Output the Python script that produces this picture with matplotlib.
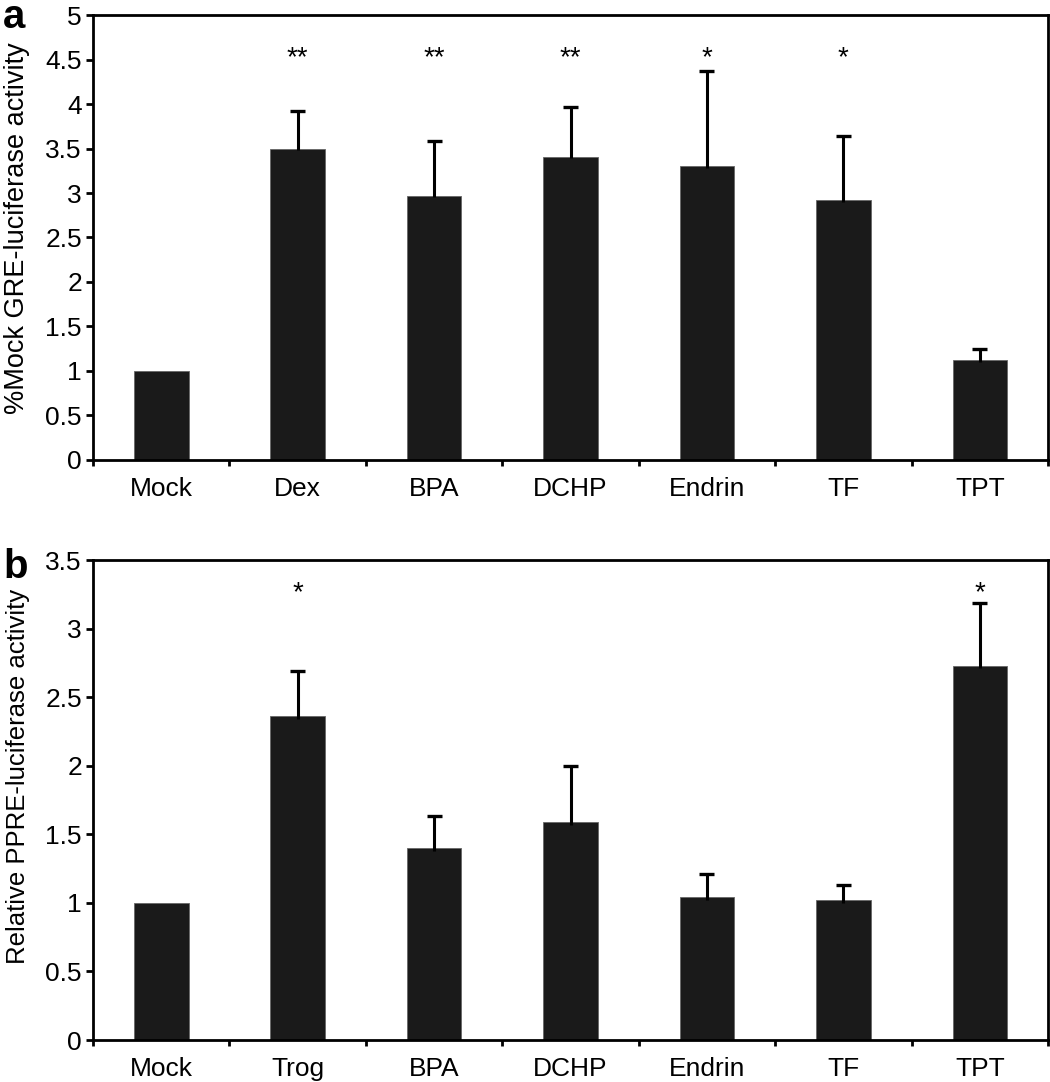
import matplotlib
matplotlib.use("Agg")
import matplotlib.pyplot as plt
import numpy as np

plt.rcParams['font.family'] = ['Liberation Sans', 'DejaVu Sans']

# panel a: GRE
cats_a = ['Mock', 'Dex', 'BPA', 'DCHP', 'Endrin', 'TF', 'TPT']
vals_a = [1.0, 3.50, 2.97, 3.41, 3.30, 2.92, 1.12]
errs_a = [0.0, 0.42, 0.61, 0.56, 1.07, 0.72, 0.13]
stars_a = ['', '**', '**', '**', '*', '*', '']

# panel b: PPRE
cats_b = ['Mock', 'Trog', 'BPA', 'DCHP', 'Endrin', 'TF', 'TPT']
vals_b = [1.0, 2.36, 1.40, 1.59, 1.04, 1.02, 2.73]
errs_b = [0.0, 0.33, 0.23, 0.41, 0.17, 0.11, 0.46]
stars_b = ['', '*', '', '', '', '', '*']

fig = plt.figure(figsize=(10.5, 10.82), dpi=100)
ax_a = fig.add_axes([0.0886, 0.5749, 0.9095, 0.4112])
ax_b = fig.add_axes([0.0886, 0.0388, 0.9095, 0.4436])


def draw(ax, cats, vals, errs, stars, ymax, star_y, ylabel, lab_size):
    x = np.arange(len(cats))
    v = np.array(vals)
    e = np.array(errs)
    ax.bar(x, v, width=0.4, color='#1a1a1a', edgecolor='#666666', linewidth=0.6, zorder=2)
    show = e > 0
    ax.vlines(x[show], v[show] - 0.02, v[show] + e[show], color='black', linewidth=2.2, zorder=3)
    ax.hlines(v[show] + e[show], x[show] - 0.055, x[show] + 0.055, color='black', linewidth=2.4, zorder=3)
    for xi, s in zip(x, stars):
        if s:
            ax.text(xi, star_y, s, ha='center', va='center', fontsize=20)
    ax.set_xlim(-0.5, len(cats) - 0.5)
    ax.set_ylim(0, ymax)
    yt = np.arange(0, ymax + 0.01, 0.5)
    ax.set_yticks(yt)
    ax.set_yticklabels(['%g' % t for t in yt])
    ax.set_xticks(x)
    ax.set_xticklabels(cats)
    ax.set_xticks(np.arange(-0.5, len(cats), 1.0), minor=True)
    ax.tick_params(axis='x', which='major', length=0, pad=12, labelsize=19)
    ax.tick_params(axis='x', which='minor', length=4.5, width=2, direction='out')
    ax.tick_params(axis='y', length=5, width=2, direction='out', labelsize=19, pad=3)
    for sp in ax.spines.values():
        sp.set_linewidth(2)
    ax.set_ylabel(ylabel, fontsize=lab_size)


draw(ax_a, cats_a, vals_a, errs_a, stars_a, 5, 4.52, '%Mock GRE-luciferase activity', 19.5)
draw(ax_b, cats_b, vals_b, errs_b, stars_b, 3.5, 3.255, 'Relative PPRE-luciferase activity', 18.5)
ax_a.yaxis.set_label_coords(-0.066, 0.52)
ax_b.yaxis.set_label_coords(-0.066, 0.55)

fig.text(3 / 1050, 1 - 28 / 1082, 'a', fontsize=29, fontweight='bold', ha='left', va='baseline')
fig.text(3 / 1050, 1 - 578 / 1082, 'b', fontsize=29, fontweight='bold', ha='left', va='baseline')

fig.savefig('out.png', dpi=100)
